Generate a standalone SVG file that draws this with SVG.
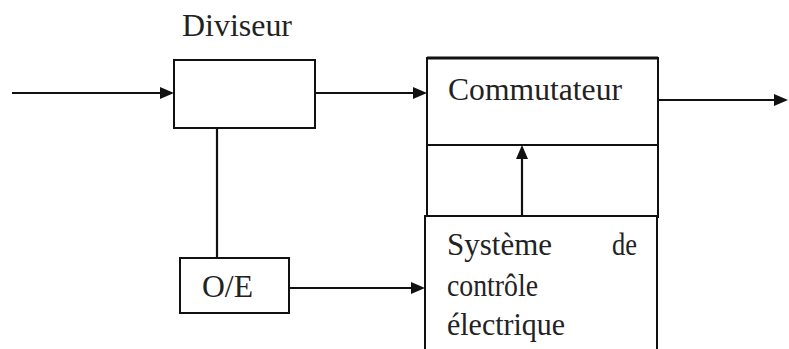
<svg xmlns="http://www.w3.org/2000/svg" width="789" height="349" viewBox="0 0 789 349">
<style>
.box{fill:#fff;stroke:#111;stroke-width:2}
.ln{fill:none;stroke:#111;stroke-width:2.2}
.ah{fill:#111;stroke:none}
text{font-family:"Liberation Serif","Times New Roman",Times,serif;fill:#222}
</style>
<rect width="789" height="349" fill="#fff"/>
<g id="diviseur">
<rect class="box" x="174" y="60" width="141" height="68"/>
<text x="182" y="36" font-size="31" textLength="110" lengthAdjust="spacingAndGlyphs">Diviseur</text>
</g>
<g id="commutateur">
<rect class="box" x="427" y="58" width="231" height="159"/>
<line x1="427" y1="58" x2="658" y2="58" stroke="#111" stroke-width="3.2"/>
<line class="ln" x1="427" y1="145" x2="658" y2="145"/>
<text x="448" y="100" font-size="31" textLength="174" lengthAdjust="spacingAndGlyphs">Commutateur</text>
</g>
<g id="oe">
<rect class="box" x="180" y="258" width="109" height="55"/>
<text x="202" y="297" font-size="31" textLength="51" lengthAdjust="spacingAndGlyphs">O/E</text>
</g>
<g id="systeme">
<rect class="box" x="425" y="216" width="232" height="150"/>
<text x="447" y="255" font-size="31" textLength="105" lengthAdjust="spacingAndGlyphs">Système</text>
<text x="612" y="255" font-size="31" textLength="25" lengthAdjust="spacingAndGlyphs">de</text>
<text x="447" y="296" font-size="31" textLength="91" lengthAdjust="spacingAndGlyphs">contrôle</text>
<text x="447" y="335" font-size="31" textLength="118" lengthAdjust="spacingAndGlyphs">électrique</text>
</g>
<g id="connectors">
<line class="ln" x1="12" y1="93" x2="162" y2="93"/>
<polygon class="ah" points="160,87 174,93 160,99"/>
<line class="ln" x1="315" y1="93" x2="415" y2="93"/>
<polygon class="ah" points="413,87 427,93 413,99"/>
<line class="ln" x1="658" y1="100" x2="776" y2="100"/>
<polygon class="ah" points="774,94 788,100 774,106"/>
<line class="ln" x1="217" y1="128" x2="217" y2="258"/>
<line class="ln" x1="289" y1="288" x2="413" y2="288"/>
<polygon class="ah" points="411,282 425,288 411,294"/>
<line class="ln" x1="522" y1="216" x2="522" y2="157"/>
<polygon class="ah" points="516,159 522,145 528,159"/>
</g>
</svg>
